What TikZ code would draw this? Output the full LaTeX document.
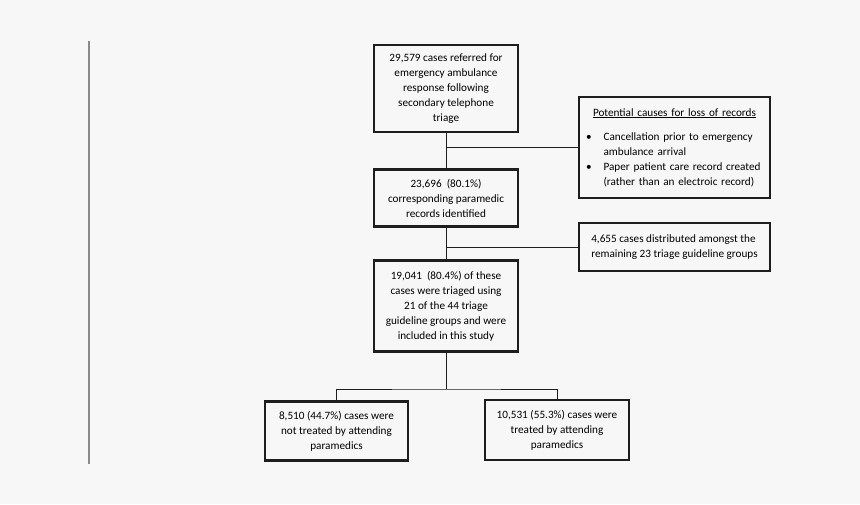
\documentclass[tikz,border=0pt]{standalone}
\usepackage{fontspec}
\setmainfont{Carlito}
\usetikzlibrary{positioning}

\definecolor{bgpage}{HTML}{F7F7F7}
\definecolor{boxline}{HTML}{1E1E1E}
\definecolor{sideline}{HTML}{8A8A8A}

\begin{document}
\begin{tikzpicture}[x=1pt,y=1pt,
    flowbox/.style={draw=boxline,line width=2.2pt,align=center,inner sep=0pt,
      font=\fontsize{11.2}{15}\selectfont},
    link/.style={draw=boxline,line width=0.9pt}]
        \fill [bgpage] (0,0) rectangle (860,-504);
        \useasboundingbox (0,0) rectangle (860,-504);
        \draw [sideline,line width=1.6pt] (89,-41) -- (89,-464);

        \node [flowbox,minimum width=144pt,minimum height=87pt] at (446,-88.5) (referred){29,579 cases referred for\\emergency ambulance\\response following\\secondary telephone\\triage};
        \node [flowbox,minimum width=191pt,minimum height=101pt,align=left,text width=177pt] at (674.5,-147.5) (causes){\makebox[\linewidth]{\underline{Potential causes for loss of records}}\\[9pt]
          \textbullet\hspace{12pt}Cancellation prior to emergency\\
          \phantom{\textbullet}\hspace{12pt}ambulance arrival\\
          \textbullet\hspace{12pt}Paper patient care record created\\
          \phantom{\textbullet}\hspace{12pt}(rather than an electroic record)};
        \node [flowbox,minimum width=144pt,minimum height=57pt] at (446,-198) (records){23,696~ (80.1\%)\\corresponding paramedic\\records identified};
        \node [flowbox,minimum width=191pt,minimum height=48pt,align=left] at (674.5,-247) (others){4,655 cases distributed amongst the\\remaining 23 triage guideline groups};
        \node [flowbox,minimum width=144pt,minimum height=91pt] at (446,-306) (included){19,041~ (80.4\%) of these\\cases were triaged using\\21 of the 44 triage\\guideline groups and were\\included in this study};
        \node [flowbox,minimum width=143pt,minimum height=59pt] at (336.5,-431) (untreated){8,510 (44.7\%) cases were\\not treated by attending\\paramedics};
        \node [flowbox,minimum width=144pt,minimum height=60pt] at (557,-430) (treated){10,531 (55.3\%) cases were\\treated by attending\\paramedics};
        \coordinate (split) at (446,-389);

        \draw [link] (referred) -- (records);
        \draw [link] (referred.south |- causes.west) -- (causes.west);
        \draw [link] (records) -- (included);
        \draw [link] (records.south |- others.west) -- (others.west);
        \draw [link] (included.south) -- (split);
        \draw [link] (untreated.north) |- (split) -| (treated.north);
      \end{tikzpicture}
\end{document}
